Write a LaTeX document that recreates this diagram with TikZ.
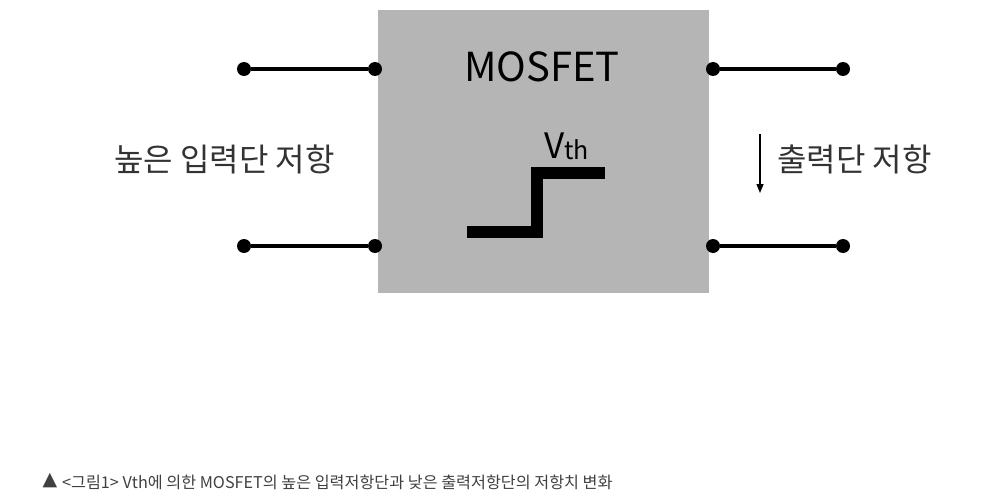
\documentclass[tikz,border=0pt]{standalone}
\usepackage{fontspec}
\setmainfont{Noto Sans CJK KR}
\newfontfamily\symfont{DejaVu Sans}
\usetikzlibrary{arrows.meta}

\begin{document}
\begin{tikzpicture}[x=1pt, y=-1pt,
    wire/.style={line width=3.5pt, color=black},
    pin/.style={circle, fill=black, inner sep=0pt, minimum size=14pt},
    steptrace/.style={line width=12pt, color=black},
    label/.style={text=black!80, font=\fontsize{32}{32}\selectfont, inner sep=0pt}]
      \useasboundingbox (0,0) rectangle (988,503);
      % block
      \fill[color=black!29] (378,10) rectangle (709,293);
      \node[font=\fontsize{40}{40}\selectfont, inner sep=0pt] (mos) at (542,67) {MOSFET};
      % input pins
      \node[pin] (ina) at (244,69) {};
      \node[pin] (inb) at (375,69) {};
      \node[pin] (inc) at (244,246) {};
      \node[pin] (ind) at (375,246) {};
      \draw[wire] (ina)--(inb);
      \draw[wire] (inc)--(ind);
      % output pins
      \node[pin] (outa) at (713,69) {};
      \node[pin] (outb) at (843,69) {};
      \node[pin] (outc) at (713,246) {};
      \node[pin] (outd) at (843,246) {};
      \draw[wire] (outa)--(outb);
      \draw[wire] (outc)--(outd);
      % threshold step
      \coordinate (s0) at (467,232);
      \coordinate (s1) at (537,232);
      \coordinate (s2) at (537,173);
      \coordinate (s3) at (605,173);
      \draw[steptrace] (s0)--(s1)--(s2)--(s3);
      \node[font=\fontsize{35}{35}\selectfont, inner sep=0pt, anchor=base west] (vth) at (544,158)
        {V\raisebox{-1pt}{\fontsize{25}{25}\selectfont th}};
      % labels
      \node[label, anchor=west] (inres) at (114,159) {높은 입력단 저항};
      \node[label, anchor=west] (outres) at (777,159) {출력단 저항};
      \coordinate (arrtop) at (760,134);
      \coordinate (arrbot) at (760,193);
      \draw[line width=1.4pt, -{Triangle[width=7pt,length=9pt]}] (arrtop)--(arrbot);
      % caption
      \node[inner sep=0pt, text=black!75, font=\symfont\fontsize{19}{19}\selectfont] (tri) at (50,481) {▲};
      \node[inner sep=0pt, anchor=west, text=black!75, font=\fontsize{16.2}{16.2}\selectfont] (cap) at (62,482)
        {<그림1> Vth에 의한 MOSFET의 높은 입력저항단과 낮은 출력저항단의 저항치 변화};
\end{tikzpicture}
\end{document}
